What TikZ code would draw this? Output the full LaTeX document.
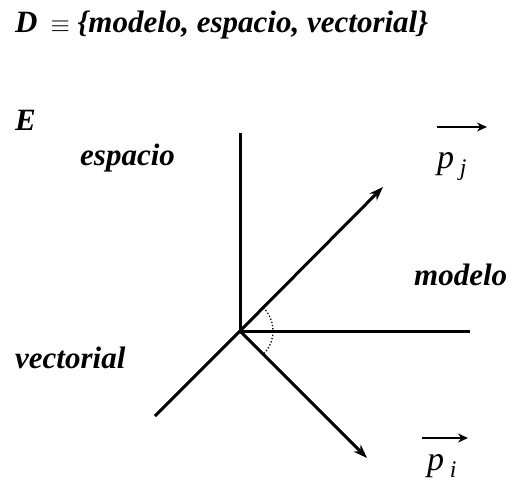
\documentclass[tikz,border=0pt]{standalone}
\usepackage{fontspec}
\setmainfont{Liberation Serif}
\usepackage{tikz}
\usetikzlibrary{arrows.meta,positioning}

\tikzset{
  axis/.style={line width=3pt},
  vecline/.style={line width=3pt, -{Stealth[length=14pt,width=10pt]}},
  lbl/.style={font=\fontsize{31}{34}\selectfont\bfseries\itshape, inner sep=0pt, anchor=base west},
  veclbl/.style={font=\fontsize{34}{36}\selectfont\itshape, inner sep=0pt, anchor=base west},
  vecarrow/.style={line width=1.5pt, -{Stealth[length=10pt,width=9pt]}}
}

\begin{document}
\begin{tikzpicture}[x=1pt, y=-1pt, >=Stealth]
\useasboundingbox (0,0) rectangle (512,488);
% origin and axis ends
\coordinate (o) at (240,331);
\coordinate (esp) at (240,133);
\coordinate (mod) at (470,331);
\coordinate (vec) at (155,416);
\coordinate (pj) at (383,187);
\coordinate (pi) at (367,458);

\draw[axis] (o) -- (esp);
\draw[axis] (o) -- (mod);
\draw[axis] (o) -- (vec);
\draw[vecline] (o) -- (pj);
\draw[vecline] (o) -- (pi);
\draw[line width=1.3pt, dotted] (o) ++(-45:33) arc[start angle=-45, end angle=45, radius=33];

% texts
\node[lbl] (title) at (15,32) {D\, $\equiv$ \{modelo, espacio, vectorial\}};
\node[lbl] (e) at (15,130) {E};
\node[lbl] (tesp) at (80,165) {espacio};
\node[lbl] (tmod) at (414,285) {modelo};
\node[lbl] (tvec) at (15,368) {vectorial};
\node[veclbl] (vpj) at (437,168) {p\,\textsubscript{j}};
\node[veclbl] (vpi) at (427,470) {p\,\textsubscript{i}};
\coordinate (aj1) at (437,127);
\coordinate (aj2) at (487,127);
\coordinate (ai1) at (422,438);
\coordinate (ai2) at (468,438);
\draw[vecarrow] (aj1) -- (aj2);
\draw[vecarrow] (ai1) -- (ai2);
\end{tikzpicture}
\end{document}
